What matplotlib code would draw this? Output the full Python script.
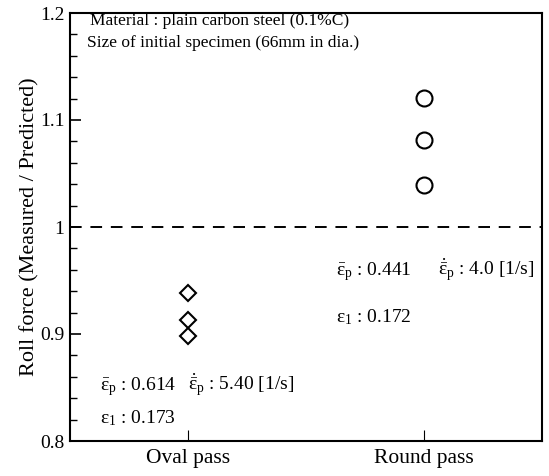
import matplotlib
matplotlib.use("Agg")
import matplotlib.pyplot as plt
from matplotlib.ticker import MultipleLocator

plt.rcParams['font.family'] = ['Liberation Serif', 'DejaVu Serif']
plt.rcParams['mathtext.fontset'] = 'custom'
plt.rcParams['mathtext.rm'] = 'Liberation Serif'
plt.rcParams['mathtext.it'] = 'Liberation Serif'
plt.rcParams['mathtext.bf'] = 'Liberation Serif:bold'

categories = ["Oval pass", "Round pass"]
oval_values = [0.938, 0.913, 0.898]
round_values = [1.121, 1.081, 1.039]
y_ticks = [0.8, 0.9, 1.0, 1.1, 1.2]
y_ticklabels = ["0.8", "0.9", "1", "1.1", "1.2"]

fig = plt.figure(figsize=(5.49, 4.76), dpi=100)
ax = fig.add_axes([70/549, 1-441/476, (542-70)/549, (441-13)/476])

xpos = [1, 2]
ax.plot([xpos[0]]*len(oval_values), oval_values, linestyle='none', marker='D',
        markersize=8.5, markerfacecolor='white', markeredgecolor='black', markeredgewidth=1.5)
ax.plot([xpos[1]]*len(round_values), round_values, linestyle='none', marker='o',
        markersize=11.5, markerfacecolor='white', markeredgecolor='black', markeredgewidth=1.5)

ax.axhline(1.0, color='black', linestyle=(0, (6, 4.5)), linewidth=1.4)

ax.set_xlim(0.5, 2.5)
ax.set_ylim(0.8, 1.2)
ax.set_xticks(xpos)
ax.set_xticklabels(categories, fontsize=15.5)
ax.set_yticks(y_ticks)
ax.set_yticklabels(y_ticklabels, fontsize=14)
ax.yaxis.set_minor_locator(MultipleLocator(0.02))
ax.tick_params(axis='y', which='major', direction='in', length=8, width=1.2, pad=4)
ax.tick_params(axis='y', which='minor', direction='in', length=5, width=1.0)
ax.tick_params(axis='x', which='major', direction='in', length=8, width=0.8, pad=6)
ax.set_ylabel("Roll force (Measured / Predicted)", fontsize=16, labelpad=0)
for s in ax.spines.values():
    s.set_linewidth(1.5)

ax.text(90/549, 1-25/476, "Material : plain carbon steel (0.1%C)", transform=fig.transFigure,
        fontsize=12.5, ha='left', va='baseline')
ax.text(87/549, 1-47/476, "Size of initial specimen (66mm in dia.)", transform=fig.transFigure,
        fontsize=12.5, ha='left', va='baseline')

labels = [
    (100, 390, r"$\bar{\varepsilon}_{\mathrm{p}}$ : 0.614"),
    (188, 390, r"$\dot{\bar{\varepsilon}}_{\mathrm{p}}$ : 5.40 [1/s]"),
    (100, 423, r"$\varepsilon_{1}$ : 0.173"),
    (336, 275, r"$\bar{\varepsilon}_{\mathrm{p}}$ : 0.441"),
    (438, 275, r"$\dot{\bar{\varepsilon}}_{\mathrm{p}}$ : 4.0 [1/s]"),
    (336, 322, r"$\varepsilon_{1}$ : 0.172"),
]
for x, y, s in labels:
    ax.text(x/549, 1-y/476, s, transform=fig.transFigure, fontsize=14, ha='left', va='baseline')

fig.savefig("out.png", dpi=100)
